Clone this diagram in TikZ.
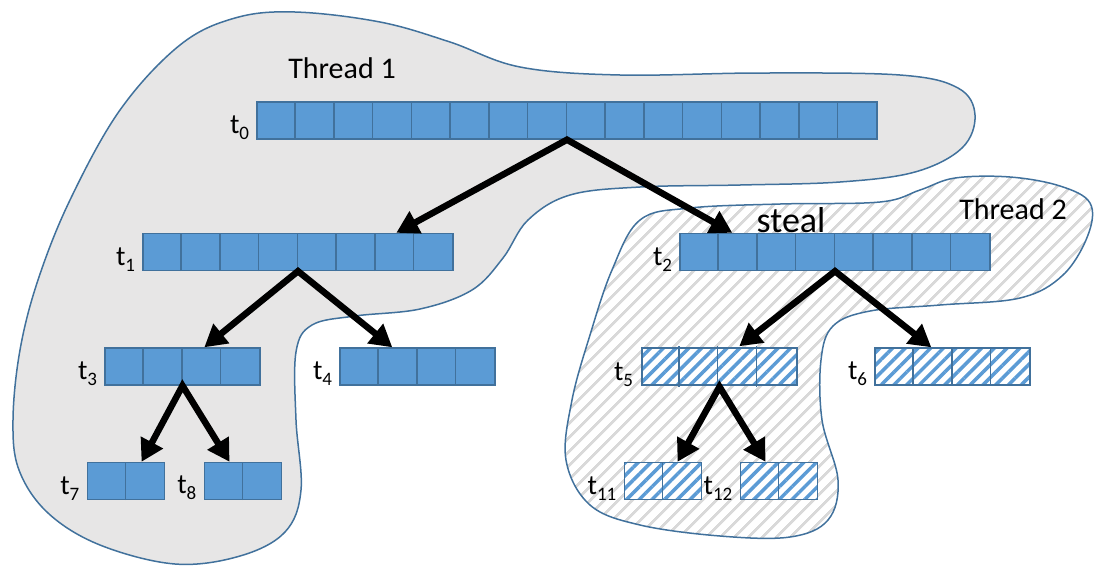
\documentclass[tikz,border=0pt]{standalone}
\usepackage{fontspec}
\setmainfont{Carlito}
\usetikzlibrary{arrows.meta,patterns.meta}

\definecolor{cellblue}{HTML}{5B9BD5}
\definecolor{cellline}{HTML}{41719C}
\definecolor{blobline}{HTML}{41719C}
\definecolor{blobgray}{HTML}{E7E6E6}
\definecolor{hatchgray}{HTML}{D9D9D9}

% task label: t with a lowered index
\newcommand{\tlab}[1]{t\raisebox{-6pt}{\fontsize{19}{19}\selectfont #1}}

\begin{document}
\begin{tikzpicture}[x=1pt,y=-1pt,
    cells/.style={draw=cellline,line width=1.4pt,minimum height=37pt,inner sep=0pt,minimum width=#1*38.75pt},
    arr/.style={cells=#1,fill=cellblue},
    harr/.style={cells=#1,preaction={fill=white},pattern={Lines[angle=45,distance=9pt,line width=3.5pt]},pattern color=cellblue},
    lbl/.style={font=\fontsize{28}{28}\selectfont,anchor=south east,inner sep=0pt,xshift=-7pt},
    fork/.style={line width=6.5pt,line join=miter,{Triangle[length=22pt,width=24pt]}-{Triangle[length=22pt,width=24pt]}}]
  \useasboundingbox (0,0) rectangle (1094,566);

  % thread 1 region
  \draw[blobline,line width=1.5pt,fill=blobgray] plot[smooth cycle,tension=0.6] coordinates {
    (295,12) (380,22) (450,42) (520,67) (620,75) (760,73) (900,75) (958,88) (975,115)
    (962,148) (915,172) (840,182) (740,185) (640,187) (570,195) (528,220) (503,258)
    (472,290) (420,309) (355,316) (312,325) (296,352) (296,420) (301,490) (285,532)
    (240,556) (175,564) (100,545) (48,513) (19,470) (13,420) (20,350) (38,280)
    (70,200) (120,110) (180,45) (235,18)};
  % thread 2 region
  \draw[blobline,line width=1.5pt,pattern={Lines[angle=45,distance=10.5pt,line width=3pt]},pattern color=hatchgray]
    plot[smooth cycle,tension=0.6] coordinates {
    (640,220) (690,208) (780,204) (880,202) (920,190) (955,178) (1010,177) (1060,186)
    (1090,203) (1088,235) (1063,275) (1020,298) (940,305) (870,311) (833,326)
    (821,360) (822,420) (838,480) (828,520) (790,537) (720,536) (640,525) (590,505)
    (566,460) (572,400) (590,335) (612,270)};

  \node at (342,78) [anchor=base,font=\fontsize{30}{30}\selectfont] (th1) {Thread 1};
  \node at (1013,219) [anchor=base,font=\fontsize{30}{30}\selectfont] (th2) {Thread 2};

  % task arrays
  \node[arr=16] (t0) at (567,120.5) {};
  \node[arr=8] (t1) at (298,252) {};
  \node[arr=8] (t2) at (835,252) {};
  \node[arr=4] (t3) at (182.5,366.5) {};
  \node[arr=4] (t4) at (417.5,366.5) {};
  \node[harr=4] (t5) at (719.5,366.5) {};
  \node[harr=4] (t6) at (952.5,366.5) {};
  \node[arr=2] (t7) at (126,481) {};
  \node[arr=2] (t8) at (243,481) {};
  \node[harr=2] (t11) at (663,481) {};
  \node[harr=2] (t12) at (779,481) {};
  \foreach \n/\k in {t0/15,t1/7,t2/7,t3/3,t4/3,t5/3,t6/3,t7/1,t8/1,t11/1,t12/1}
    \foreach \i in {1,...,\k}
      \draw[cellline,line width=1.4pt] ([xshift=\i*38.75pt]\n.south west) -- ([xshift=\i*38.75pt]\n.north west);

  \foreach \n/\s in {t0/0,t1/1,t2/2,t3/3,t4/4,t5/5,t6/6,t7/7,t8/8,t11/11,t12/12}
    \node[lbl] (l\s) at (\n.south west) {\tlab{\s}};

  \node at (791,232) [anchor=base,font=\fontsize{36}{36}\selectfont] (steal) {steal};

  % spawned children
  \draw[fork] ([xshift=254pt]t1.north west) -- (t0.south) -- ([xshift=53pt]t2.north west);
  \draw[fork] ([xshift=100pt]t3.north west) -- (t1.south) -- ([xshift=53pt]t4.north west);
  \draw[fork] ([xshift=99pt]t5.north west) -- (t2.south) -- ([xshift=57pt]t6.north west);
  \draw[fork] ([xshift=55pt]t7.north west) -- (t3.south) -- ([xshift=26pt]t8.north west);
  \draw[fork] ([xshift=54pt]t11.north west) -- (t5.south) -- ([xshift=26pt]t12.north west);
\end{tikzpicture}
\end{document}
